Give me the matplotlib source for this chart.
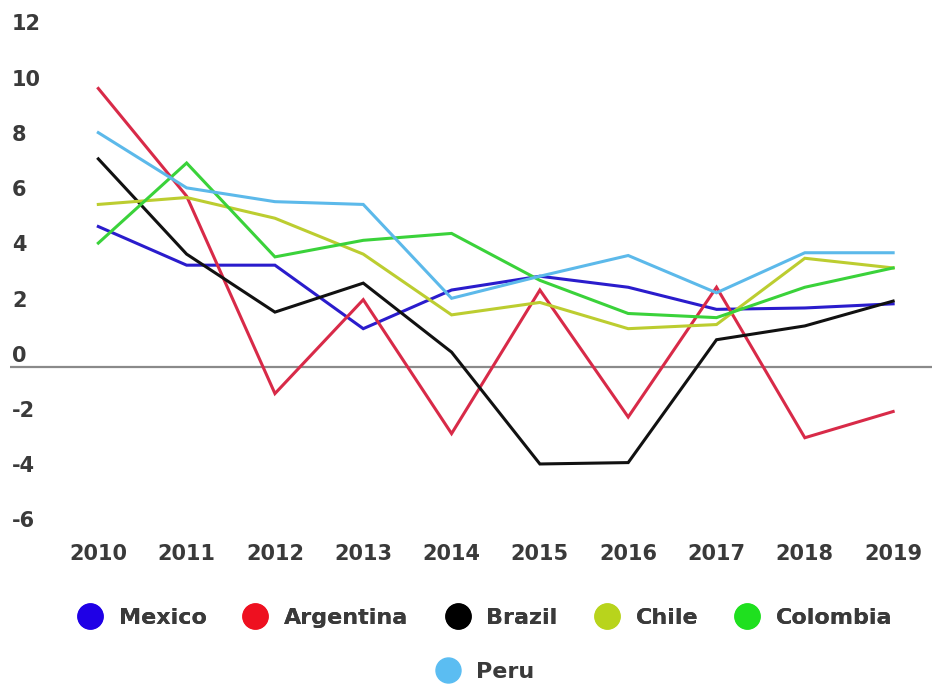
import numpy as np
import matplotlib.pyplot as plt
import matplotlib.transforms as mtransforms
from matplotlib.lines import Line2D

years = ['2010', '2011', '2012', '2013', '2014', '2015', '2016', '2017', '2018', '2019']
countries = ['Mexico', 'Argentina', 'Brazil', 'Chile', 'Colombia', 'Peru']

mexico = [5.1, 3.7, 3.7, 1.4, 2.8, 3.3, 2.9, 2.1, 2.15, 2.3]
argentina = [10.1, 6.2, -0.95, 2.45, -2.4, 2.8, -1.8, 2.9, -2.55, -1.6]
brazil = [7.55, 4.1, 2.0, 3.05, 0.55, -3.5, -3.45, 1.0, 1.5, 2.4]
chile = [5.9, 6.15, 5.4, 4.1, 1.9, 2.35, 1.4, 1.55, 3.95, 3.6]
colombia = [4.5, 7.4, 4.0, 4.6, 4.85, 3.15, 1.95, 1.8, 2.9, 3.6]
peru = [8.5, 6.5, 6.0, 5.9, 2.5, 3.3, 4.05, 2.7, 4.15, 4.15]

line_colors = ['#2a1ccc', '#d82a48', '#111111', '#bccd30', '#3ad23a', '#5cb9ea']
dot_colors = ['#1f00e6', '#ee1020', '#000000', '#b8d41c', '#1fe01f', '#5bbdf2']
yticks = [-6, -4, -2, 0, 2, 4, 6, 8, 10, 12]

plt.rcParams['font.family'] = ['DejaVu Sans']
TXT = '#3a3a3a'

fig = plt.figure(figsize=(9.32, 6.85), dpi=100)
ax = fig.add_axes([10/932, 1 - 533/685, 922/932, (533 - 36)/685])

x = np.arange(len(years))
series = [mexico, argentina, brazil, chile, colombia, peru]
for vals, c in zip(series, line_colors):
    ax.plot(x, vals, color=c, lw=2.2, solid_joinstyle='miter')

ax.axhline(0, color='#8a8a8a', lw=1.6, zorder=0)
ax.set_xlim(-1, 9.44)
ax.set_ylim(-6, 12)
for s in ax.spines.values():
    s.set_visible(False)

ax.set_xticks(x)
ax.set_xticklabels(years, fontsize=15, fontweight='bold', color=TXT)
ax.tick_params(axis='x', length=0, pad=8)
ax.set_yticks([])

trans = mtransforms.blended_transform_factory(ax.transAxes, ax.transData)
for v in yticks:
    ax.annotate(str(v), xy=(0, v), xycoords=trans, xytext=(1.5, 4),
                textcoords='offset points', ha='left', va='baseline',
                fontsize=15, fontweight='bold', color=TXT)

def handle(c):
    return Line2D([], [], marker='o', ls='none', markersize=18,
                  markerfacecolor=c, markeredgecolor=c)

leg1 = fig.legend([handle(c) for c in dot_colors[:5]], countries[:5],
                  loc='center', bbox_to_anchor=(0.515, 1 - 618/685), ncol=5,
                  frameon=False, handletextpad=0.3, columnspacing=1.2,
                  prop={'size': 16, 'weight': 'bold'}, labelcolor=TXT)
leg2 = fig.legend([handle(dot_colors[5])], countries[5:],
                  loc='center', bbox_to_anchor=(0.515, 1 - 672/685),
                  frameon=False, handletextpad=0.3,
                  prop={'size': 16, 'weight': 'bold'}, labelcolor=TXT)
fig.add_artist(leg1)

fig.savefig('out.png', dpi=100)
